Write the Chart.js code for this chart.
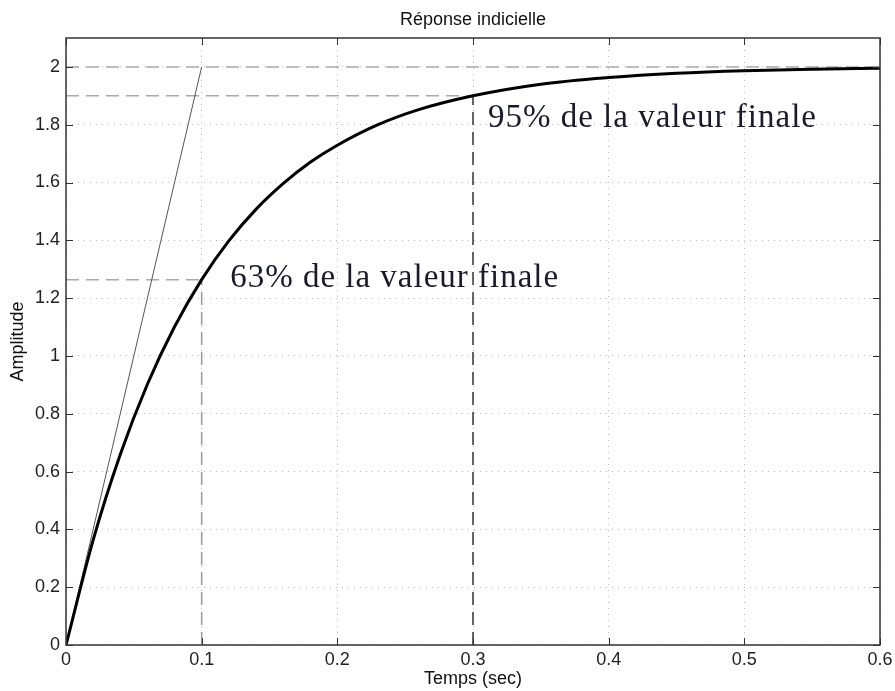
<!DOCTYPE html>
<html>
<head>
<meta charset="utf-8">
<script src="https://cdn.jsdelivr.net/npm/chart.js@4/dist/chart.umd.min.js"></script>
<style>
  body { margin: 0; background: #fff; }
  canvas { display: block; }
</style>
</head>
<body>
<canvas id="chart" width="895" height="691"></canvas>
<script>
// step response
var times = [0, 0.02, 0.04, 0.06, 0.08, 0.10, 0.12, 0.14, 0.16, 0.18, 0.20, 0.23, 0.26, 0.30, 0.35, 0.40, 0.45, 0.50, 0.55, 0.60];
var amplitude = [0, 0.363, 0.659, 0.902, 1.101, 1.264, 1.398, 1.507, 1.596, 1.670, 1.729, 1.800, 1.852, 1.900, 1.940, 1.963, 1.978, 1.987, 1.992, 1.995];

// markers
var finalValue = 2;
var tau = 0.1;
var y63 = 1.264;
var t95 = 0.3;
var y95 = 1.9;

var xTicks = [0, 0.1, 0.2, 0.3, 0.4, 0.5, 0.6];
var yTicks = [0, 0.2, 0.4, 0.6, 0.8, 1, 1.2, 1.4, 1.6, 1.8, 2];

var notes = [
    { text: '63% de la valeur finale', x: 0.121, y: 1.239 },
    { text: '95% de la valeur finale', x: 0.311, y: 1.792 }
];

var sans = '"Liberation Sans", Arial, sans-serif';

function pts(xs, ys) {
    return xs.map(function (x, i) { return { x: x, y: ys[i] }; });
}

function segment(x0, y0, x1, y1, color, dash, width) {
    return {
        data: [{ x: x0, y: y0 }, { x: x1, y: y1 }],
        borderColor: color,
        borderWidth: width,
        borderDash: dash,
        pointRadius: 0,
        tension: 0
    };
}

function fmt(v) {
    return String(Math.round(v * 10) / 10);
}

// MATLAB-like box with inward ticks, plus title and annotations
var framePlugin = {
    id: 'frame',
    afterDraw: function (chart) {
        var ctx = chart.ctx;
        var a = chart.chartArea;
        var sx = chart.scales.x, sy = chart.scales.y;
        ctx.save();
        ctx.strokeStyle = '#333';
        ctx.lineWidth = 1.5;
        ctx.strokeRect(a.left, a.top, a.right - a.left, a.bottom - a.top);
        ctx.lineWidth = 1;
        ctx.beginPath();
        xTicks.forEach(function (v) {
            var px = Math.round(sx.getPixelForValue(v)) + 0.5;
            ctx.moveTo(px, a.bottom); ctx.lineTo(px, a.bottom - 7);
            ctx.moveTo(px, a.top); ctx.lineTo(px, a.top + 7);
        });
        yTicks.forEach(function (v) {
            var py = Math.round(sy.getPixelForValue(v)) + 0.5;
            ctx.moveTo(a.left, py); ctx.lineTo(a.left + 7, py);
            ctx.moveTo(a.right, py); ctx.lineTo(a.right - 7, py);
        });
        ctx.stroke();

        ctx.fillStyle = '#111';
        ctx.font = '18px ' + sans;
        ctx.textAlign = 'center';
        ctx.textBaseline = 'middle';
        ctx.fillText('Réponse indicielle', (a.left + a.right) / 2, 20);

        ctx.fillStyle = '#1a1a2a';
        ctx.font = '33px "Liberation Serif", "DejaVu Serif", serif';
        ctx.letterSpacing = '1px';
        ctx.textAlign = 'left';
        ctx.textBaseline = 'alphabetic';
        notes.forEach(function (n) {
            ctx.fillText(n.text, sx.getPixelForValue(n.x), sy.getPixelForValue(n.y));
        });
        ctx.restore();
    }
};

new Chart(document.getElementById('chart'), {
    type: 'line',
    data: {
        datasets: [
            {
                data: pts(times, amplitude),
                borderColor: '#000',
                borderWidth: 3,
                pointRadius: 0,
                cubicInterpolationMode: 'monotone'
            },
            segment(0, 0, tau, finalValue, '#555', [], 1),
            segment(0, finalValue, 0.6, finalValue, '#aaa', [13, 7], 1.5),
            segment(0, y95, t95, y95, '#aaa', [13, 7], 1.5),
            segment(0, y63, tau, y63, '#aaa', [13, 7], 1.5),
            segment(tau, 0, tau, y63, '#999', [13, 7], 1.5),
            segment(t95, 0, t95, y95, '#333', [13, 7], 1.5)
        ]
    },
    options: {
        responsive: false,
        animation: false,
        layout: { padding: { left: 0, right: 15, top: 38, bottom: 0 } },
        plugins: {
            legend: { display: false },
            tooltip: { enabled: false },
            title: { display: false }
        },
        scales: {
            x: {
                type: 'linear',
                min: 0,
                max: 0.6,
                afterBuildTicks: function (s) { s.ticks = xTicks.map(function (v) { return { value: v }; }); },
                afterFit: function (s) {
                    s.height = 46;
                    s.paddingLeft = 0;
                    s.paddingRight = 0;
                },
                ticks: {
                    color: '#222',
                    font: { family: sans, size: 18, lineHeight: 1 },
                    padding: 6,
                    maxRotation: 0,
                    callback: fmt
                },
                grid: { color: '#bbb', lineWidth: 1, drawTicks: false },
                border: { display: false, dash: [1, 5] },
                title: {
                    display: true,
                    text: 'Temps (sec)',
                    color: '#111',
                    font: { family: sans, size: 18, lineHeight: 1 },
                    padding: { top: 2, bottom: 3 }
                }
            },
            y: {
                type: 'linear',
                min: 0,
                max: 2.1,
                afterBuildTicks: function (s) { s.ticks = yTicks.map(function (v) { return { value: v }; }); },
                afterFit: function (s) {
                    s.width = 66;
                    s.paddingTop = 0;
                    s.paddingBottom = 0;
                },
                ticks: {
                    color: '#222',
                    font: { family: sans, size: 18 },
                    padding: 6,
                    callback: fmt
                },
                grid: { color: '#bbb', lineWidth: 1, drawTicks: false },
                border: { display: false, dash: [1, 5] },
                title: {
                    display: true,
                    text: 'Amplitude',
                    color: '#111',
                    font: { family: sans, size: 18, lineHeight: 1 },
                    padding: { top: 9, bottom: 0 }
                }
            }
        }
    },
    plugins: [framePlugin]
});
</script>
</body>
</html>
